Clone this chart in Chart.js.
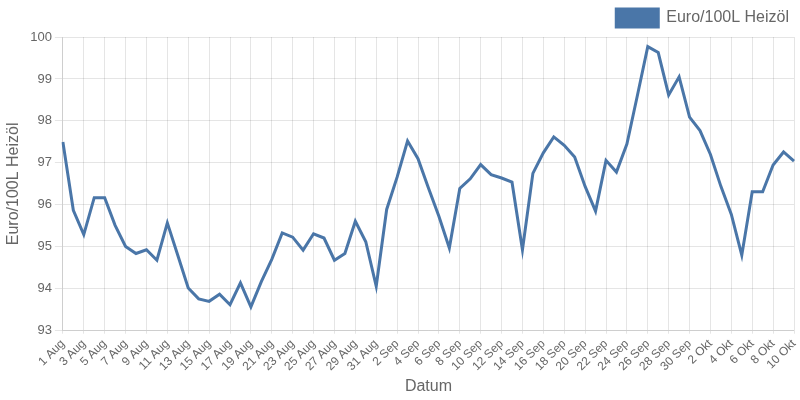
<!DOCTYPE html>
<html>
<head>
    <title>Heizölpreis</title>
    <script src="https://cdn.jsdelivr.net/npm/chart.js"></script>
    <style>
        body { margin: 0; background: #fff; }
        #wrap { width: 800px; height: 400px; }
    </style>
</head>
<body>
    <div id="wrap">
        <canvas id="myChart"></canvas>
    </div>

    <script>
        const labels = [
            '1 Aug', '2 Aug', '3 Aug', '4 Aug', '5 Aug', '6 Aug', '7 Aug', '8 Aug', '9 Aug', '10 Aug',
            '11 Aug', '12 Aug', '13 Aug', '14 Aug', '15 Aug', '16 Aug', '17 Aug', '18 Aug', '19 Aug', '20 Aug',
            '21 Aug', '22 Aug', '23 Aug', '24 Aug', '25 Aug', '26 Aug', '27 Aug', '28 Aug', '29 Aug', '30 Aug',
            '31 Aug', '1 Sep', '2 Sep', '3 Sep', '4 Sep', '5 Sep', '6 Sep', '7 Sep', '8 Sep', '9 Sep',
            '10 Sep', '11 Sep', '12 Sep', '13 Sep', '14 Sep', '15 Sep', '16 Sep', '17 Sep', '18 Sep', '19 Sep',
            '20 Sep', '21 Sep', '22 Sep', '23 Sep', '24 Sep', '25 Sep', '26 Sep', '27 Sep', '28 Sep', '29 Sep',
            '30 Sep', '1 Okt', '2 Okt', '3 Okt', '4 Okt', '5 Okt', '6 Okt', '7 Okt', '8 Okt', '9 Okt',
            '10 Okt'
        ];

        // Euro pro 100 Liter Heizöl, täglich
        const prices = [
            97.50, 95.87, 95.29, 96.17, 96.17, 95.51, 95.01, 94.84, 94.93, 94.68,
            95.57, 94.80, 94.02, 93.76, 93.70, 93.87, 93.62, 94.14, 93.57, 94.17,
            94.70, 95.33, 95.23, 94.92, 95.31, 95.21, 94.68, 94.84, 95.61, 95.12,
            94.06, 95.89, 96.66, 97.52, 97.10, 96.40, 95.73, 94.97, 96.39, 96.62,
            96.96, 96.72, 96.64, 96.54, 94.93, 96.75, 97.24, 97.62, 97.42, 97.14,
            96.44, 95.85, 97.06, 96.78, 97.45, 98.60, 99.77, 99.63, 98.62, 99.05,
            98.09, 97.77, 97.20, 96.44, 95.77, 94.80, 96.31, 96.31, 96.95, 97.26,
            97.04
        ];

        const seriesName = 'Euro/100L Heizöl';
        const lineColor = 'rgb(74, 118, 168)';
        const textColor = '#666';

        Chart.defaults.font.family = '"Liberation Sans", Arial, sans-serif';
        Chart.defaults.color = textColor;

        const ctx = document.getElementById('myChart').getContext('2d');
        const myChart = new Chart(ctx, {
            type: 'line',
            data: {
                labels: labels,
                datasets: [{
                    label: seriesName,
                    data: prices,
                    borderColor: lineColor,
                    backgroundColor: lineColor,
                    borderWidth: 3,
                    pointRadius: 0,
                    tension: 0,
                    fill: false
                }]
            },
            options: {
                responsive: true,
                maintainAspectRatio: false,
                animation: false,
                layout: { padding: { left: 0, right: 2, top: 0, bottom: 2 } },
                plugins: {
                    legend: {
                        align: 'end',
                        labels: {
                            boxWidth: 42,
                            boxHeight: 18,
                            padding: 9,
                            font: { size: 16 },
                            color: textColor
                        }
                    },
                    tooltip: { enabled: false }
                },
                scales: {
                    x: {
                        title: { display: true, text: 'Datum', font: { size: 16 }, color: textColor, padding: { top: 0, bottom: 2 } },
                        ticks: {
                            autoSkip: false,
                            maxRotation: 45,
                            minRotation: 45,
                            font: { size: 12 },
                            callback: function (value, index) {
                                return index % 2 === 0 ? this.getLabelForValue(value) : null;
                            }
                        },
                        grid: { color: 'rgba(0,0,0,0.1)', tickLength: 3 },
                        afterFit: function (scale) {
                            // the rotated last label does not need that much room on the right
                            scale.paddingRight = 6;
                        }
                    },
                    y: {
                        min: 93,
                        max: 100,
                        title: { display: true, text: seriesName, font: { size: 16 }, color: textColor },
                        ticks: { stepSize: 1, font: { size: 13 } },
                        grid: { color: 'rgba(0,0,0,0.1)' }
                    }
                }
            }
        });
    </script>
</body>
</html>
